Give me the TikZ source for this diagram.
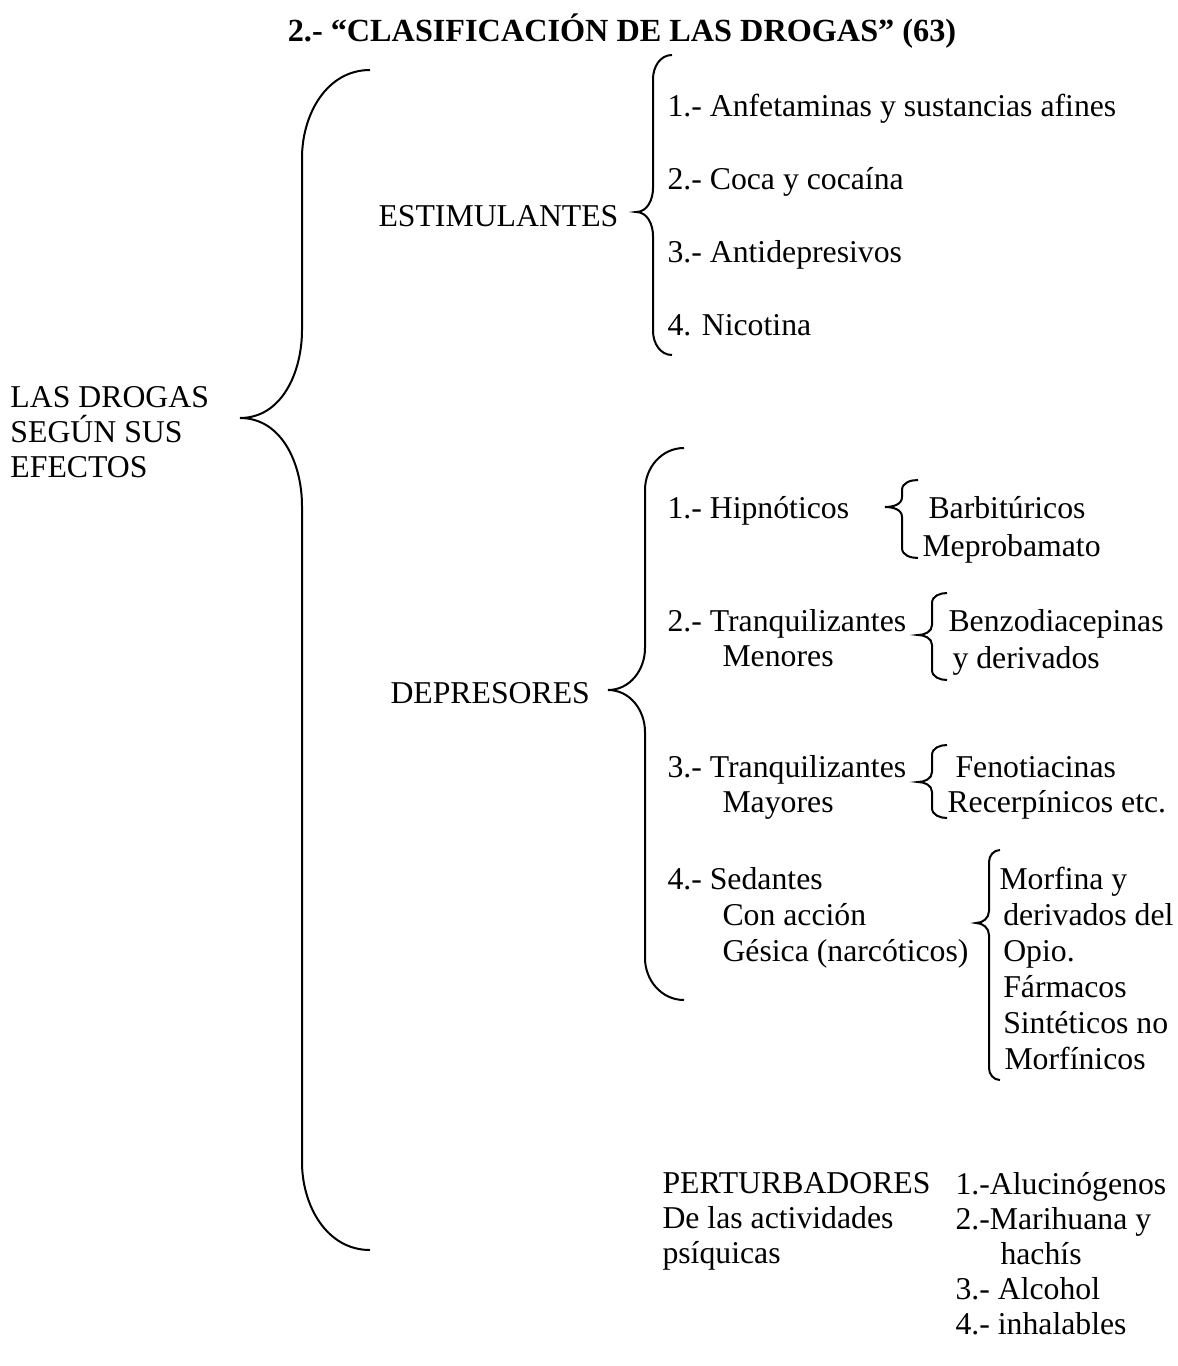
\documentclass[tikz,border=0pt]{standalone}
\usepackage{fontspec}
\setmainfont{Liberation Serif}
\usetikzlibrary{positioning}

% brace: end x, stem x, top y, tip x, tip y, bottom y, hook
\newcommand{\Llave}[7]{%
  \draw[llave] (#1,#3) to[out=180,in=90] (#2,#3+#7) -- (#2,#5-#7)
    to[out=-90,in=0] (#4,#5) to[out=0,in=90] (#2,#5+#7) -- (#2,#6-#7)
    to[out=-90,in=180] (#1,#6);}

\begin{document}
\begin{tikzpicture}[x=0.4pt,y=-0.4pt]
			\tikzset{
			  llave/.style = { line width=0.8pt },
			  txt/.style = { anchor=base west, inner sep=0pt,
			                 font=\fontsize{12.7}{14}\selectfont },
			  bloque/.style = { anchor=north west, inner sep=0pt, align=left,
			                    font=\fontsize{12.7}{14}\selectfont } }
			\useasboundingbox (0,0) rectangle (1178,1366);
			\node[anchor=base, inner sep=0pt, font=\fontsize{12.9}{14}\selectfont\bfseries]
			  (titulo) at (622,41) {2.- “CLASIFICACIÓN DE LAS DROGAS” (63)};
			\node[bloque] (drogas) at (10,386) {LAS DROGAS\\SEGÚN SUS\\EFECTOS};
			\Llave{370}{302}{70}{240}{418}{1250}{88}
			% estimulantes
			\node[txt] (estim) at (378,226) {ESTIMULANTES};
			\Llave{672}{653}{55}{636}{212}{355}{24}
			\node[txt] (anfe) at (667,116) {1.- Anfetaminas y sustancias afines};
			\node[txt] (coca) at (667,189) {2.- Coca y cocaína};
			\node[txt] (anti) at (667,262) {3.- Antidepresivos};
			\node[txt] (nico) at (667,335) {4. Nicotina};
			% depresores
			\node[txt] (depre) at (390,703) {DEPRESORES};
			\Llave{684}{645}{448}{608}{690}{1000}{42}
			\node[txt] (hipno) at (667,518) {1.- Hipnóticos};
			\Llave{918}{902}{480}{885}{507}{558}{10}
			\node[txt] (barbi) at (928,518) {Barbitúricos};
			\node[txt] (mepro) at (922,556) {Meprobamato};
			\node[txt] (tmen) at (667,631) {2.- Tranquilizantes};
			\node[txt] (menores) at (722,666) {Menores};
			\Llave{947}{932}{593}{918}{635}{680}{10}
			\node[txt] (benzo) at (948,631) {Benzodiacepinas};
			\node[txt] (bderiv) at (952,668) {y derivados};
			\node[txt] (tmay) at (667,777) {3.- Tranquilizantes};
			\node[txt] (mayores) at (722,812) {Mayores};
			\Llave{947}{932}{745}{918}{782}{818}{10}
			\node[txt] (feno) at (955,777) {Fenotiacinas};
			\node[txt] (recer) at (947,812) {Recerpínicos etc.};
			\node[txt] (sedan) at (667,889) {4.- Sedantes};
			\node[txt] (accion) at (722,925) {Con acción};
			\node[txt] (gesica) at (722,961) {Gésica (narcóticos)};
			\Llave{1000}{989}{850}{976}{923}{1080}{12}
			\node[bloque, font=\fontsize{12.7}{14.4}\selectfont] (morfi) at (999,867)
			  {Morfina y\\\hspace*{1.5pt}derivados del\\\hspace*{1.5pt}Opio.\\
			   \hspace*{1.5pt}Fármacos\\\hspace*{1.5pt}Sintéticos no\\\hspace*{2pt}Morfínicos};
			% perturbadores
			\node[bloque] (pertur) at (662,1172) {PERTURBADORES\\De las actividades\\psíquicas};
			\node[bloque] (alucin) at (955,1172)
			  {1.-Alucinógenos\\2.-Marihuana y\\\hspace*{18pt}hachís\\3.- Alcohol\\4.- inhalables};
		\end{tikzpicture}
\end{document}
